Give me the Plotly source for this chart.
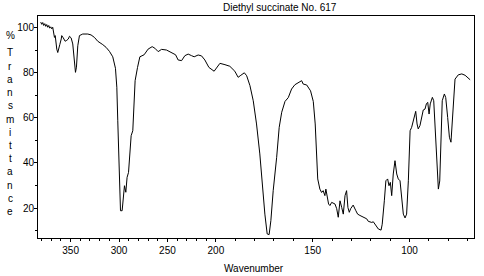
import numpy as np
import plotly.graph_objects as go

# Wavenumber (x10 cm-1, as labelled) and % transmittance
wavenumber = [380.9, 379.8, 378.8, 377.8, 376.7, 375.7, 374.7, 373.6, 372.6, 371.6, 370.5, 369.5, 368.5,
              366.7, 365.9, 365.4, 364.3, 363.3, 362.3, 361.2, 359.7, 359.2, 357.6, 355.7, 354.0, 352.4,
              351.2, 349.5, 347.8, 346.0, 345.0, 344.0, 342.6, 340.9, 337.5, 332.3, 328.9, 325.4, 322.0,
              316.8, 313.4, 309.9, 306.5, 303.7, 302.3, 301.3, 300.3, 299.2, 298.5, 296.8, 295.4, 294.4,
              293.0, 291.7, 290.2, 289.2, 287.5, 285.8, 284.7, 283.4, 280.9, 278.5, 274.1, 270.0, 265.8,
              263.0, 259.6, 256.1, 251.0, 245.8, 241.6, 239.0, 235.4, 232.0, 228.6, 225.1, 222.4, 218.3,
              214.8, 211.4, 207.2, 201.8,
              199.6, 197.9, 195.3, 192.8, 190.2, 188.5, 187.1, 185.9, 185.3, 184.1, 182.4, 180.7, 179.0,
              177.3, 175.9, 174.7, 173.5, 172.5, 171.6, 170.4, 168.6, 167.3, 166.0, 164.3, 162.6, 160.9,
              159.2, 157.0, 155.7, 154.9, 153.1, 151.1, 149.7, 148.7, 148.0, 147.4, 146.3, 145.4, 144.6,
              143.7, 143.2, 142.5, 141.8, 141.1, 140.2, 138.5, 137.6, 136.8, 135.9, 135.0, 134.2, 133.3,
              132.5, 131.8, 131.1, 130.4, 129.1, 127.7, 126.8, 125.6, 123.9, 122.1, 121.3, 119.5, 118.7,
              117.5, 116.1, 114.7, 114.1, 113.0, 112.2, 111.3, 110.6, 109.9, 109.2, 108.4, 107.5, 106.6,
              105.8, 104.9, 104.0, 103.2, 102.3, 101.5, 100.6, 99.7, 98.9, 98.0, 96.8, 96.1, 95.5, 94.6,
              93.7, 92.9, 92.0, 91.3, 90.6, 89.9, 89.3, 88.2, 87.5, 86.8, 86.0, 85.1, 84.4, 83.7, 83.1,
              82.0, 81.3, 80.3, 79.4, 78.6, 77.9, 77.2, 76.5, 74.8, 73.0, 71.3, 69.6, 68.7]
transmittance = [102.5, 101.5, 102.3, 101.0, 101.8, 100.6, 101.4, 100.2, 101.0, 99.8, 100.4, 99.5, 100.2,
                 95.7, 96.5, 94.0, 90.5, 89.0, 91.5, 92.5, 95.0, 96.5, 95.5, 94.0, 94.4, 95.0,
                 96.2, 95.5, 92.8, 86.0, 80.2, 82.5, 92.0, 96.5, 97.2, 97.2, 96.8, 95.7, 94.0,
                 92.5, 91.3, 89.5, 87.1, 82.0, 73.6, 58.7, 45.4, 30.7, 18.8, 18.8, 26.2, 29.9,
                 27.0, 33.6, 35.8, 44.0, 52.1, 54.3, 67.6, 76.5, 82.4, 87.1, 88.0, 90.5, 91.6,
                 90.9, 89.4, 90.4, 90.1, 89.1, 88.0, 85.7, 85.4, 87.6, 88.3, 87.6, 87.1, 87.9,
                 87.5, 85.7, 82.4, 80.7,
                 82.4, 84.2, 83.6, 82.9, 80.7, 78.0, 78.9, 79.8, 80.0, 78.7, 74.3, 67.6, 57.3,
                 44.0, 29.2, 17.3, 8.5, 8.2, 14.4, 27.7, 42.5, 55.8, 62.5, 67.3, 69.0, 72.8,
                 74.7, 75.8, 76.5, 75.0, 74.6, 72.0, 67.3, 57.3, 44.0, 32.9, 28.4, 26.9, 27.7,
                 25.5, 28.4, 24.5, 21.8, 21.1, 22.5, 21.8, 19.7, 15.9, 23.2, 20.2, 17.3, 25.5,
                 27.7, 20.2, 18.1, 19.7, 21.3, 18.8, 17.3, 16.7, 16.1, 15.2, 14.1, 13.6, 13.9,
                 12.4, 10.7, 10.2, 12.8, 23.2, 32.1, 32.9, 29.9, 31.4, 25.5, 35.1, 41.0, 35.1,
                 32.9, 32.1, 23.2, 17.3, 15.6, 17.3, 32.1, 54.3, 55.8, 58.7, 62.9, 57.3, 55.1, 56.6,
                 61.0, 63.5, 63.9, 66.2, 66.9, 61.7, 66.2, 69.1, 67.6, 57.3, 44.0, 28.4, 32.0, 54.3, 67.6,
                 70.6, 69.0, 60.2, 51.4, 49.2, 58.7, 70.6, 77.2, 79.1, 79.5, 78.9, 77.7, 76.9]

x_tick_labels = [350, 300, 250, 200, 150, 100]
y_tick_labels = [20, 40, 60, 80, 100]
title_text = "Diethyl succinate No. 617"
x_title = "Wavenumber"
y_title_letters = "Transmittance"

BREAK = 200.0  # scale doubles below this value


def to_axis(v):
    v = np.asarray(v, dtype=float)
    return np.where(v >= BREAK, v, 2 * v - BREAK)


minor_vals = list(range(380, 200, -10)) + list(range(190, 60, -10))

fig = go.Figure()
fig.add_trace(go.Scatter(x=to_axis(wavenumber), y=transmittance, mode="lines",
                         line=dict(color="black", width=1), hoverinfo="skip"))

font = dict(family="Liberation Sans, Arial, sans-serif", size=10, color="black")

fig.update_layout(
    width=484, height=276,
    margin=dict(l=38, r=10, t=16, b=38),
    paper_bgcolor="white", plot_bgcolor="white",
    showlegend=False,
    font=font,
    xaxis=dict(
        range=[383.7, -66.6],
        tickmode="array", tickvals=to_axis(x_tick_labels).tolist(),
        ticktext=[str(t) for t in x_tick_labels],
        ticks="outside", ticklen=3, tickwidth=1, tickcolor="black",
        minor=dict(tickmode="array", tickvals=to_axis(minor_vals).tolist(),
                   ticks="outside", ticklen=2, tickwidth=1, tickcolor="black"),
        showline=True, linecolor="black", linewidth=1, mirror=True,
        showgrid=False, zeroline=False,
        tickfont=font,
    ),
    yaxis=dict(
        range=[6.7, 105.2],
        tickmode="array", tickvals=y_tick_labels,
        ticktext=[str(t) for t in y_tick_labels],
        ticks="outside", ticklen=3, tickwidth=1, tickcolor="black",
        ticklabelstandoff=-2,
        minor=dict(tickmode="array", tickvals=[10, 30, 50, 70, 90],
                   ticks="outside", ticklen=2, tickwidth=1, tickcolor="black"),
        showline=True, linecolor="black", linewidth=1, mirror=True,
        showgrid=False, zeroline=False,
        tickfont=font,
    ),
)

W, H = 484, 276
l, r, t, b = 38, 10, 16, 38
pw, ph = W - l - r, H - t - b


def px(xp):
    return (xp - l) / pw


def py(yp):
    return (H - b - yp) / ph


ann = []
ann.append(dict(text=title_text, x=px(280), y=py(8), xref="paper", yref="paper",
                showarrow=False, font=font, xanchor="center", yanchor="middle"))
ann.append(dict(text=x_title, x=px(254), y=py(268), xref="paper", yref="paper",
                showarrow=False, font=font, xanchor="center", yanchor="middle"))
ann.append(dict(text="%", x=px(10), y=py(35), xref="paper", yref="paper",
                showarrow=False, font=font, xanchor="center", yanchor="middle"))
for i, ch in enumerate(y_title_letters):
    ann.append(dict(text=ch, x=px(10), y=py(53 + i * 13.2), xref="paper", yref="paper",
                    showarrow=False, font=font, xanchor="center", yanchor="middle"))
fig.update_layout(annotations=ann)

fig.write_html("out.html")
